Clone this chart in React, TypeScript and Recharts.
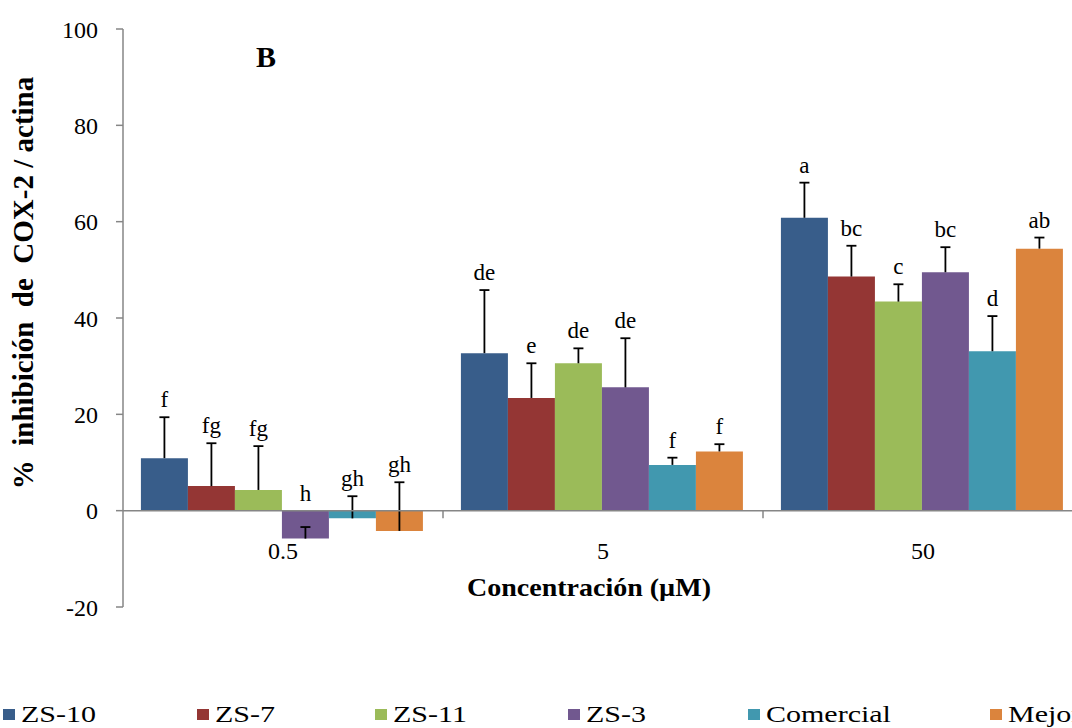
import React from 'react';
import { BarChart, Bar, XAxis, YAxis, ReferenceLine, LabelList } from 'recharts';

// Concentrations on the category axis
const concentrations = ['0.5', '5', '50'];

// Series (compounds)
const seriesNames = ['ZS-10', 'ZS-7', 'ZS-11', 'ZS-3', 'Comercial', 'Mejorado'];
const seriesKeys = ['zs10', 'zs7', 'zs11', 'zs3', 'comercial', 'mejorado'];
const seriesColors = ['#385D8A', '#943634', '#9BBB59', '#71588F', '#4198AF', '#DB843D'];

// % inhibition of COX-2 / actin (mean), per concentration
const zs10 = [10.9, 32.7, 60.8];
const zs7 = [5.1, 23.4, 48.6];
const zs11 = [4.3, 30.6, 43.4];
const zs3 = [-5.8, 25.6, 49.5];
const comercial = [-1.6, 9.5, 33.1];
const mejorado = [-4.2, 12.3, 54.4];

// Upper error (SD)
const zs10Err = [8.5, 13.1, 7.3];
const zs7Err = [8.9, 7.2, 6.4];
const zs11Err = [9.1, 3.1, 3.6];
const zs3Err = [2.4, 10.2, 5.2];
const comercialErr = [4.6, 1.5, 7.3];
const mejoradoErr = [10.1, 1.5, 2.3];

// Significance letters
const zs10Letters = ['f', 'de', 'a'];
const zs7Letters = ['fg', 'e', 'bc'];
const zs11Letters = ['fg', 'de', 'c'];
const zs3Letters = ['h', 'de', 'bc'];
const comercialLetters = ['gh', 'f', 'd'];
const mejoradoLetters = ['gh', 'f', 'ab'];

// Y axis ticks
const yTicks = [-20, 0, 20, 40, 60, 80, 100];

const means = [zs10, zs7, zs11, zs3, comercial, mejorado];
const errs = [zs10Err, zs7Err, zs11Err, zs3Err, comercialErr, mejoradoErr];
const letters = [zs10Letters, zs7Letters, zs11Letters, zs3Letters, comercialLetters, mejoradoLetters];

const rows = concentrations.map((conc, i) => {
  const row: Record<string, any> = { conc };
  seriesKeys.forEach((k, s) => {
    row[k] = means[s][i];
    row[k + '_err'] = errs[s][i];
    row[k + '_lbl'] = letters[s][i];
  });
  return row;
});

const SERIF = 'Liberation Serif, Times New Roman, serif';
const AXIS_GREY = '#868686';

// Error whisker drawn as a stacked segment above each bar's end
const ErrorWhisker = (props: any) => {
  const { x, y, width, height } = props;
  if (x == null || y == null) return null;
  const cx = x + width / 2;
  const top = Math.min(y, y + height);
  const bottom = Math.max(y, y + height);
  return (
    <g>
      <line x1={cx} x2={cx} y1={top} y2={bottom} stroke="#000" strokeWidth={1.8} />
      <line x1={cx - 5} x2={cx + 5} y1={top} y2={top} stroke="#000" strokeWidth={1.8} />
    </g>
  );
};

// Letter placed above the whisker (or above the zero line when the whisker stays below it)
const makeLetter = (key: string) => (props: any) => {
  const vb = props.viewBox || props;
  const { x, y, width, height } = vb;
  const idx = props.index;
  if (x == null || idx == null) return null;
  const row = rows[idx];
  const v = row[key];
  const e = row[key + '_err'];
  const h = Math.abs(height);
  const top = Math.min(y, y + height);
  const ppu = h / e;
  const total = v + e;
  const anchor = total < 0 ? top + total * ppu : top;
  return (
    <text
      x={x + width / 2}
      y={anchor - 10}
      textAnchor="middle"
      fontFamily={SERIF}
      fontSize={23}
      fill="#000"
    >
      {row[key + '_lbl']}
    </text>
  );
};

const CategoryTick = (props: any) => {
  const { x, y, payload } = props;
  return (
    <text x={x} y={y - 48} textAnchor="middle" fontFamily={SERIF} fontSize={24} fill="#000">
      {payload.value}
    </text>
  );
};

const legendLeft = [3, 197, 375, 568, 748, 990];

export default function App() {
  return (
    <div
      style={{
        position: 'absolute',
        left: 0,
        top: 0,
        width: 1072,
        height: 728,
        overflow: 'hidden',
        background: '#fff',
      }}
    >
      <BarChart
        width={1180}
        height={728}
        data={rows}
        margin={{ top: 29, right: 97, bottom: 91, left: 63 }}
        barCategoryGap="5.6%"
        barGap={0}
      >
        <YAxis
          type="number"
          domain={[-20, 100]}
          ticks={yTicks}
          width={60}
          axisLine={{ stroke: AXIS_GREY, strokeWidth: 1.5 }}
          tickLine={{ stroke: AXIS_GREY, strokeWidth: 1.5 }}
          tickSize={7}
          tickMargin={18}
          tick={{ fill: '#000', fontFamily: SERIF, fontSize: 24 }}
          allowDataOverflow
        />
        <XAxis
          dataKey="conc"
          height={30}
          axisLine={false}
          tickLine={false}
          tickSize={0}
          tickMargin={0}
          tick={<CategoryTick />}
        />
        {seriesKeys.map((k, s) => (
          <Bar
            key={k}
            dataKey={k}
            stackId={k}
            fill={seriesColors[s]}
            isAnimationActive={false}
          />
        ))}
        {seriesKeys.map((k) => (
          <Bar
            key={k + '_err'}
            dataKey={k + '_err'}
            stackId={k}
            fill="none"
            shape={<ErrorWhisker />}
            isAnimationActive={false}
          >
            <LabelList dataKey={k + '_lbl'} content={makeLetter(k)} />
          </Bar>
        ))}
        <ReferenceLine y={0} stroke={AXIS_GREY} strokeWidth={1.5} />
        {concentrations.map((c) => (
          <ReferenceLine
            key={'tick-' + c}
            segment={[
              { x: c, y: 0 },
              { x: c, y: -1.6 },
            ]}
            position="end"
            stroke={AXIS_GREY}
            strokeWidth={1.5}
          />
        ))}
      </BarChart>

      {/* Panel letter */}
      <div
        style={{
          position: 'absolute',
          left: 256,
          top: 40,
          fontFamily: SERIF,
          fontWeight: 'bold',
          fontSize: 30,
          lineHeight: '34px',
        }}
      >
        B
      </div>

      {/* Y axis title */}
      <div
        style={{
          position: 'absolute',
          left: 23,
          top: 283,
          transform: 'translate(-50%, -50%) rotate(-90deg)',
          fontFamily: SERIF,
          fontWeight: 'bold',
          fontSize: 29,
          whiteSpace: 'pre',
          lineHeight: '30px',
        }}
      >
        {'%  inhibición  de  COX-2 / actina'}
      </div>

      {/* X axis title */}
      <div
        style={{
          position: 'absolute',
          left: 589,
          top: 574,
          transform: 'translateX(-50%) scaleX(1.12)',
          fontFamily: SERIF,
          fontWeight: 'bold',
          fontSize: 25,
          whiteSpace: 'pre',
          lineHeight: '28px',
        }}
      >
        Concentración (µM)
      </div>

      {/* Legend */}
      {seriesNames.map((name, s) => (
        <div
          key={name}
          style={{
            position: 'absolute',
            left: legendLeft[s],
            top: 700,
            height: 28,
            display: 'flex',
            alignItems: 'center',
            whiteSpace: 'nowrap',
          }}
        >
          <span
            style={{
              display: 'inline-block',
              width: 12,
              height: 11,
              background: seriesColors[s],
              marginRight: 6,
            }}
          />
          <span
            style={{
              display: 'inline-block',
              fontFamily: SERIF,
              fontSize: 24,
              lineHeight: '28px',
              transform: 'scaleX(1.25)',
              transformOrigin: 'left center',
            }}
          >
            {name}
          </span>
        </div>
      ))}
    </div>
  );
}
